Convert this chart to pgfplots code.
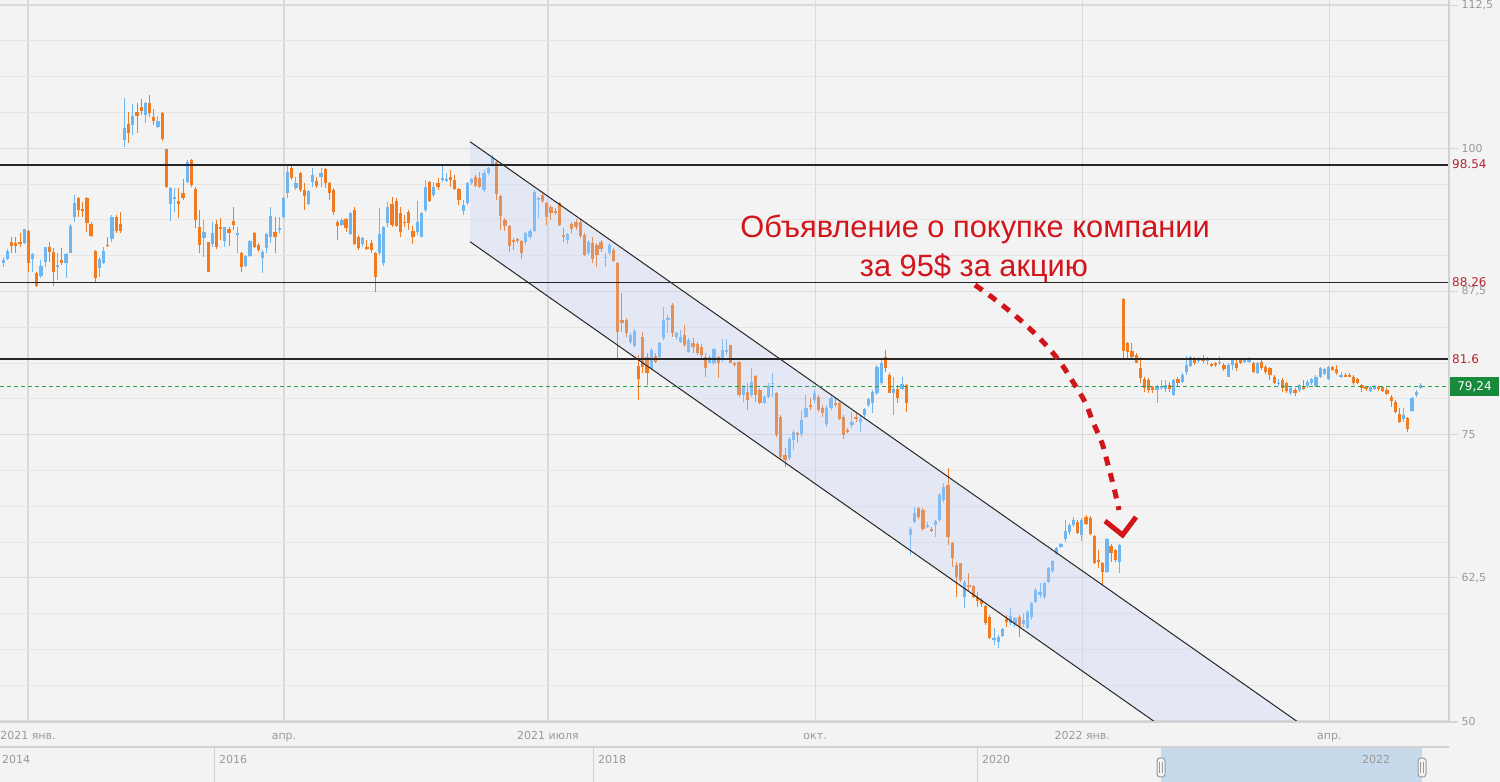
\documentclass[border=0pt]{standalone}
\usepackage{pgfplots}
\pgfplotsset{compat=1.18}
\usepackage{pgfplotstable}
\usepackage{fontspec}
\setmainfont{DejaVu Sans}
\newfontfamily\annotfont{Liberation Sans}
\definecolor{bg}{HTML}{F3F3F3}
\definecolor{majgrid}{HTML}{DADADA}
\definecolor{mingrid}{HTML}{E6E6E6}
\definecolor{axgray}{HTML}{D2D2D2}
\definecolor{lblgray}{HTML}{999999}
\definecolor{cup}{HTML}{6DB6F2}
\definecolor{cdown}{HTML}{F27A1F}
\definecolor{chan}{HTML}{BECDFA}
\definecolor{lvlred}{HTML}{B3262D}
\definecolor{greenline}{HTML}{2BA14B}
\definecolor{boxgreen}{HTML}{178A3B}
\definecolor{selblue}{HTML}{C6DAEC}
\definecolor{handlegray}{HTML}{9A9A9A}
\definecolor{annred}{HTML}{D1151B}

\pgfplotstableread{
i o h l c
0 89.96 90.54 89.67 90.25
1 90.33 91.18 90.25 91.06
2 91.79 92.28 90.83 91.47
3 91.70 92.28 90.83 91.47
4 91.79 92.57 91.41 91.61
5 91.70 92.98 91.61 92.92
6 92.78 92.87 89.23 89.96
7 90.33 90.83 89.23 90.74
8 89.08 89.23 87.92 88.01
9 88.88 90.25 88.65 89.72
10 90.10 91.41 89.66 91.35
11 91.35 91.85 90.10 90.97
12 90.97 91.26 88.01 89.23
13 89.66 90.83 88.50 89.81
14 90.25 91.26 89.81 89.96
15 90.01 90.83 88.65 90.74
16 90.89 93.39 90.83 93.24
17 94.03 95.92 93.59 95.19
18 95.63 95.78 94.03 94.61
19 94.70 95.34 94.03 94.52
20 95.63 95.78 92.72 93.45
21 93.39 93.59 92.22 92.34
22 91.06 91.12 88.35 88.67
23 89.58 90.48 88.79 90.33
24 90.01 91.41 89.90 91.06
25 91.56 92.28 91.41 91.47
26 92.05 94.17 91.85 94.03
27 94.03 94.17 92.57 92.78
28 93.39 94.47 92.57 92.78
29 100.72 104.36 100.14 101.74
30 102.12 103.20 100.43 101.30
31 102.03 103.86 101.16 102.82
32 103.14 103.92 101.30 102.82
33 103.57 104.30 102.90 103.28
34 102.90 104.07 102.23 103.92
35 103.92 104.65 102.70 103.05
36 102.70 103.40 102.03 102.41
37 101.89 102.85 101.74 102.38
38 103.11 103.17 100.63 100.78
39 99.91 99.94 96.50 96.59
40 95.13 96.59 93.65 96.50
41 95.54 96.50 94.47 95.78
42 95.43 96.50 93.88 95.13
43 96.07 97.29 95.48 95.63
44 97.08 98.98 96.94 98.83
45 98.98 99.06 96.65 96.76
46 96.42 96.59 93.01 93.74
47 93.16 94.61 90.83 91.56
48 92.20 93.74 90.54 92.72
49 91.79 91.85 89.17 89.23
50 91.64 93.59 91.41 92.57
51 93.39 93.74 91.21 91.35
52 93.10 93.88 91.99 93.01
53 91.93 93.16 91.41 93.10
54 92.95 93.16 91.50 92.57
55 93.65 94.90 92.87 93.30
56 92.46 93.10 90.89 92.52
57 90.83 90.97 89.23 89.61
58 89.72 90.68 89.66 90.59
59 90.59 91.99 90.54 91.93
60 92.63 92.72 91.26 91.35
61 91.55 91.70 90.97 91.12
62 90.39 91.12 89.08 90.97
63 91.26 92.57 90.83 92.49
64 92.28 94.90 91.70 94.09
65 92.72 94.03 90.83 92.28
66 92.92 94.03 92.57 93.07
67 93.97 95.77 93.79 95.63
68 96.06 98.45 95.63 97.96
69 98.25 98.45 97.23 97.37
70 96.50 97.52 96.35 96.99
71 97.87 97.96 96.21 96.35
72 96.35 96.94 94.61 95.83
73 95.13 96.35 95.05 96.27
74 97.08 98.25 96.65 97.66
75 97.17 97.52 96.50 96.70
76 97.46 98.25 96.65 97.87
77 98.16 98.25 96.50 97.00
78 96.94 97.08 95.48 96.12
79 96.35 96.50 94.17 94.46
80 93.59 93.74 91.99 93.21
81 93.30 93.88 93.21 93.74
82 93.79 93.88 92.72 93.01
83 92.51 94.46 92.43 94.38
84 94.61 94.90 91.55 91.64
85 92.28 92.43 91.12 91.26
86 91.64 92.28 91.41 92.13
87 91.41 91.99 91.12 91.17
88 91.76 91.99 90.83 91.12
89 90.88 90.97 87.48 88.73
90 90.83 94.75 90.68 92.51
91 89.95 93.21 89.72 93.10
92 93.44 95.34 93.15 94.90
93 95.13 95.77 93.15 93.30
94 95.42 95.63 93.10 93.21
95 94.38 94.90 92.28 92.72
96 93.59 94.17 93.15 93.45
97 94.46 94.61 92.86 93.45
98 92.80 93.21 91.64 92.28
99 92.72 95.42 92.43 93.59
100 92.28 94.46 92.22 94.38
101 94.61 97.23 94.46 96.65
102 97.08 97.17 95.31 95.39
103 95.92 97.08 95.77 96.65
104 96.99 97.37 96.35 96.59
105 97.23 98.54 97.08 97.37
106 97.17 97.81 97.08 97.29
107 97.52 98.10 96.65 97.23
108 97.23 97.66 96.35 96.41
109 96.41 96.50 95.05 95.48
110 94.55 95.48 94.17 95.05
111 95.19 97.08 95.05 96.94
112 96.94 97.37 96.79 97.29
113 97.52 97.66 96.65 96.70
114 97.37 97.96 96.50 96.59
115 96.35 98.10 96.21 97.81
116 97.81 98.39 97.66 98.25
117 98.54 99.41 98.39 99.12
118 98.83 98.97 95.48 96.01
119 95.83 95.92 92.86 94.09
120 93.74 93.88 92.80 93.21
121 93.21 93.30 90.97 91.47
122 91.99 92.13 91.12 91.87
123 92.05 92.13 91.70 91.93
124 91.93 91.99 90.30 90.83
125 91.84 92.72 91.55 92.57
126 92.28 92.92 92.05 92.80
127 92.80 96.35 92.72 96.21
128 95.48 95.77 93.88 95.63
129 95.92 96.06 95.19 95.42
130 95.19 95.34 93.30 94.03
131 94.84 95.05 93.74 94.32
132 94.46 94.75 94.17 94.38
133 95.25 95.34 93.21 93.30
134 92.43 93.01 91.84 92.22
135 91.99 92.63 91.64 92.49
136 93.39 93.59 92.57 92.92
137 93.59 93.79 92.86 93.10
138 93.59 93.74 92.13 92.34
139 92.43 92.57 90.59 90.68
140 90.88 91.99 90.68 91.84
141 91.76 92.28 89.95 90.30
142 91.55 91.70 89.66 90.68
143 91.84 91.99 90.97 91.17
144 90.42 90.83 89.66 90.53
145 90.83 91.70 90.68 91.55
146 91.12 91.26 90.10 90.19
147 90.01 90.10 81.66 83.99
148 84.99 87.33 83.99 84.77
149 85.01 85.15 83.55 83.90
150 83.11 83.84 82.91 83.70
151 82.74 84.19 82.68 84.07
152 80.99 81.95 78.02 79.83
153 83.49 83.99 80.35 80.93
154 81.80 82.10 79.33 80.35
155 80.70 82.53 80.64 82.39
156 81.86 82.10 81.22 81.37
157 81.80 83.11 81.51 82.97
158 83.41 86.17 83.26 85.01
159 85.01 85.44 83.84 85.15
160 86.32 86.46 83.55 83.84
161 83.49 83.99 83.26 83.90
162 83.11 84.13 82.97 83.55
163 83.70 84.57 82.68 82.82
164 82.24 83.41 82.10 83.26
165 82.97 83.41 82.10 82.62
166 82.91 83.11 81.95 82.16
167 82.68 82.91 81.51 81.95
168 81.80 82.10 80.06 80.78
169 81.28 81.95 81.23 81.75
170 81.28 82.53 81.08 82.45
171 81.75 81.87 79.92 81.23
172 81.52 83.32 81.37 82.39
173 82.24 83.32 81.95 82.39
174 82.80 82.83 81.23 81.28
175 81.28 81.37 80.88 81.08
176 81.37 81.43 78.32 78.46
177 78.46 79.33 77.88 79.25
178 78.75 79.48 77.15 78.02
179 78.46 80.79 78.32 79.62
180 80.12 80.21 77.88 78.46
181 78.90 79.04 77.67 77.79
182 77.73 78.46 77.67 78.32
183 78.32 79.48 78.17 79.25
184 79.42 80.35 78.32 79.54
185 78.66 78.75 74.82 74.97
186 76.57 76.71 72.79 73.08
187 73.22 73.80 72.20 72.79
188 72.93 74.82 72.79 74.59
189 74.53 75.41 73.66 75.26
190 75.11 75.26 74.24 74.97
191 75.06 77.15 74.82 76.28
192 76.57 78.46 76.42 77.30
193 77.59 78.17 77.15 77.44
194 78.02 78.90 77.73 78.61
195 78.32 78.46 77.01 77.15
196 77.30 77.59 76.57 76.86
197 75.93 77.59 75.70 77.30
198 77.30 78.46 77.15 78.17
199 77.79 78.17 77.44 77.62
200 77.73 77.88 76.28 76.34
201 76.57 76.71 74.59 74.97
202 75.41 75.55 75.11 75.26
203 75.84 77.01 75.55 76.13
204 76.57 77.01 76.13 76.34
205 76.13 76.71 75.26 76.34
206 76.71 77.30 76.57 77.21
207 77.59 78.17 77.44 78.08
208 77.79 78.90 76.86 78.75
209 78.61 81.08 78.46 80.93
210 79.48 81.52 79.33 81.28
211 81.81 82.39 80.50 80.79
212 80.21 80.35 78.61 78.66
213 78.61 80.06 76.71 78.96
214 78.96 79.33 77.73 78.17
215 78.96 80.06 78.90 79.42
216 79.33 79.42 77.01 77.73
217 66.24 66.91 64.49 66.73
218 67.40 68.71 67.26 68.19
219 68.56 68.71 67.60 67.78
220 68.42 68.56 66.62 66.73
221 66.97 67.40 66.82 67.11
222 66.73 66.97 66.53 66.62
223 67.11 67.55 66.09 67.49
224 67.55 69.87 67.40 69.73
225 69.29 70.75 69.00 70.46
226 70.60 72.06 65.36 66.09
227 65.51 65.65 63.47 64.20
228 63.62 63.91 60.85 62.60
229 63.76 63.82 62.16 62.31
230 60.85 62.31 59.83 62.16
231 61.87 62.89 61.29 61.73
232 61.78 61.87 60.71 60.85
233 60.85 61.29 59.98 60.50
234 60.56 60.71 59.98 60.21
235 60.04 60.13 58.38 58.53
236 59.11 59.25 57.13 57.22
237 57.13 58.09 56.63 57.22
238 56.92 57.51 56.34 57.36
239 57.42 58.09 57.30 58.00
240 58.87 59.25 58.24 58.67
241 58.58 59.83 58.38 59.16
242 58.47 59.11 58.24 58.96
243 59.11 59.25 57.36 58.24
244 58.47 59.40 58.18 58.82
245 58.09 59.69 58.00 59.54
246 59.11 60.42 58.82 60.27
247 60.42 61.58 60.27 61.44
248 61.00 62.02 60.71 61.29
249 60.85 62.16 60.62 62.02
250 62.16 63.47 62.02 63.33
251 63.12 64.05 62.89 64.00
252 64.58 65.22 64.49 65.07
253 65.16 65.51 65.07 65.45
254 65.86 67.55 65.65 66.62
255 66.53 67.26 66.24 67.11
256 67.11 67.78 66.91 67.55
257 67.40 67.55 66.32 66.44
258 66.24 67.69 65.74 67.55
259 67.84 67.98 67.11 67.20
260 67.69 67.89 66.24 66.32
261 66.15 66.24 63.70 63.82
262 64.05 64.93 63.33 63.91
263 63.82 63.91 61.87 63.04
264 63.04 65.95 62.95 65.86
265 65.28 65.45 63.91 64.69
266 64.93 64.99 63.91 64.05
267 63.91 65.45 62.95 65.36
268 86.81 86.90 81.52 82.33
269 82.97 83.12 81.57 82.24
270 82.33 83.03 81.52 81.81
271 81.95 82.10 81.23 81.28
272 80.79 81.81 79.48 79.92
273 79.83 80.06 78.75 79.04
274 79.77 79.92 78.66 78.90
275 79.13 79.25 78.61 78.90
276 78.90 79.33 77.73 79.25
277 79.13 79.77 78.90 79.25
278 78.96 79.77 78.75 79.33
279 79.33 79.62 78.75 78.96
280 78.46 79.83 78.37 79.77
281 79.83 80.00 79.25 79.48
282 79.62 80.35 79.48 80.21
283 80.50 81.87 80.21 81.08
284 80.99 81.87 80.88 81.75
285 81.66 81.81 81.08 81.23
286 81.46 81.75 81.23 81.57
287 81.57 81.95 81.28 81.46
288 81.46 81.75 81.08 81.57
289 81.17 81.23 80.93 80.99
290 81.23 81.37 80.93 81.08
291 81.23 81.87 81.08 81.37
292 81.08 81.23 80.59 80.70
293 80.06 81.23 80.00 81.08
294 81.08 81.57 80.64 81.52
295 81.23 81.52 80.59 80.79
296 81.57 81.66 81.17 81.28
297 81.37 81.66 81.23 81.52
298 81.37 81.81 81.23 81.52
299 81.23 81.37 80.35 80.50
300 80.41 81.37 80.29 81.23
301 81.37 81.52 80.64 80.79
302 80.93 81.08 80.29 80.50
303 80.79 80.93 79.77 80.21
304 80.06 80.21 79.42 79.54
305 79.42 79.83 79.25 79.54
306 79.77 79.92 78.75 79.04
307 79.48 79.62 78.66 78.84
308 78.61 79.25 78.46 79.04
309 78.90 79.04 78.37 78.66
310 78.90 79.42 78.75 79.33
311 79.19 79.77 78.90 79.04
312 79.25 79.77 79.04 79.62
313 79.48 79.92 79.33 79.83
314 79.25 80.21 79.13 80.06
315 80.06 80.88 79.92 80.79
316 80.29 80.79 80.21 80.70
317 79.83 80.99 79.77 80.88
318 80.88 80.99 80.59 80.64
319 80.70 81.08 80.21 80.35
320 80.00 80.50 79.92 80.21
321 80.21 80.41 80.00 80.06
322 80.21 80.35 80.00 80.06
323 80.06 80.21 79.33 79.48
324 79.83 79.92 79.42 79.54
325 79.33 79.42 78.75 79.04
326 79.13 79.25 78.84 78.96
327 78.84 79.25 78.75 79.13
328 78.96 79.33 78.90 79.13
329 79.13 79.25 78.84 78.96
330 79.13 79.25 78.75 78.84
331 78.90 79.04 78.46 78.55
332 78.32 78.46 77.44 77.97
333 77.88 78.02 76.86 77.01
334 76.80 77.30 75.99 76.13
335 76.34 77.30 76.13 76.71
336 76.42 76.57 75.26 75.46
337 77.09 78.32 77.01 78.17
338 78.46 78.90 78.32 78.75
339 79.04 79.48 78.96 79.33
}\candles

\pgfplotsset{
  wick/.style={draw=none, no markers, forget plot,
    error bars/y dir=both, error bars/y explicit, error bars/error mark=none,
    error bars/error bar style={line width=1pt, draw=#1, solid}},
  body/.style={draw=none, no markers, forget plot,
    error bars/y dir=both, error bars/y explicit, error bars/error mark=none,
    error bars/error bar style={line width=3.2pt, draw=#1, solid}},
}

\begin{document}
\begin{tikzpicture}[x=1pt,y=1pt]
\useasboundingbox (0,0) rectangle (1500,782);
\fill[bg] (0,0) rectangle (1500,782);
\begin{axis}[
  at={(0pt,60pt)}, anchor=south west, scale only axis,
  width=1448pt, height=722pt,
  xmin=-0.79, xmax=345.6, ymin=49.92, ymax=112.94,
  axis line style={draw=none},
  xtick={5.91,67.15,130.3,194.2,258.1,317.2},
  xticklabels={2021 янв.,апр.,2021 июля,окт.,2022 янв.,апр.},
  ytick={50,62.5,75,87.5,100,112.5},
  yticklabels={50,62{,}5,75,87{,}5,100,112{,}5},
  minor ytick={53.125,56.25,59.375,65.625,68.75,71.875,78.125,81.25,84.375,90.625,93.75,96.875,103.125,106.25,109.375},
  xmajorgrids, ymajorgrids, yminorgrids,
  major grid style={draw=majgrid, line width=1.2pt},
  minor grid style={draw=mingrid, line width=1pt},
  ytick pos=right, yticklabel pos=right,
  tick align=outside, major tick length=10pt, minor tick length=0pt,
  xtick style={draw=none},
  ytick style={draw=axgray, line width=1pt},
  xticklabel style={font=\fontsize{11}{13}\selectfont, text=lblgray, anchor=base, yshift=-7pt},
  yticklabel style={font=\fontsize{11}{13}\selectfont, text=lblgray, anchor=west},
  clip=true,
]
% candles: wicks then bodies
\addplot[wick=cup, restrict expr to domain={\thisrow{c}-\thisrow{o}}{0:100}]
  table[x=i, y expr={(\thisrow{h}+\thisrow{l})/2}, y error plus expr={(\thisrow{h}-\thisrow{l})/2}, y error minus expr={(\thisrow{h}-\thisrow{l})/2}] {\candles};
\addplot[wick=cdown, restrict expr to domain={\thisrow{o}-\thisrow{c}}{0.001:100}]
  table[x=i, y expr={(\thisrow{h}+\thisrow{l})/2}, y error plus expr={(\thisrow{h}-\thisrow{l})/2}, y error minus expr={(\thisrow{h}-\thisrow{l})/2}] {\candles};
\addplot[body=cup, restrict expr to domain={\thisrow{c}-\thisrow{o}}{0:100}]
  table[x=i, y expr={(\thisrow{o}+\thisrow{c})/2}, y error plus expr={max(abs(\thisrow{c}-\thisrow{o})/2,0.07)}, y error minus expr={max(abs(\thisrow{c}-\thisrow{o})/2,0.07)}] {\candles};
\addplot[body=cdown, restrict expr to domain={\thisrow{o}-\thisrow{c}}{0.001:100}]
  table[x=i, y expr={(\thisrow{o}+\thisrow{c})/2}, y error plus expr={max(abs(\thisrow{c}-\thisrow{o})/2,0.07)}, y error minus expr={max(abs(\thisrow{c}-\thisrow{o})/2,0.07)}] {\candles};
% channel
\fill[chan, opacity=0.27] (axis cs:111.65,100.57) -- (axis cs:317.2,48) -- (axis cs:283.0,48) -- (axis cs:111.65,91.84) -- cycle;
\addplot[black!85, line width=1pt, forget plot] coordinates {(111.65,100.57) (317.2,48)};
\addplot[black!85, line width=1pt, forget plot] coordinates {(111.65,91.84) (283.0,48)};
% levels
\addplot[black!85, line width=1.3pt, forget plot] coordinates {(-0.79,98.54) (345.6,98.54)};
\addplot[black!85, line width=1.3pt, forget plot] coordinates {(-0.79,88.26) (345.6,88.26)};
\addplot[black!85, line width=1.3pt, forget plot] coordinates {(-0.79,81.6) (345.6,81.6)};
\addplot[greenline, line width=1pt, dash pattern=on 4pt off 3pt, forget plot] coordinates {(-0.79,79.24) (345.6,79.24)};
\end{axis}
% frame lines
\draw[axgray, line width=1.5pt] (1449,782) -- (1449,60);
\draw[axgray, line width=1.5pt] (0,60) -- (1457,60);
% level labels
\node[anchor=west, text=lvlred, font=\fontsize{12}{14}\selectfont, inner sep=0pt] at (1452,617.5) {98.54};
\node[anchor=west, text=lvlred, font=\fontsize{12}{14}\selectfont, inner sep=0pt] at (1452,499.5) {88.26};
\node[anchor=west, text=lvlred, font=\fontsize{12}{14}\selectfont, inner sep=0pt] at (1452,423) {81.6};
\node[fill=boxgreen, text=white, minimum width=49pt, minimum height=19pt, inner sep=0pt, font=\fontsize{12}{14}\selectfont] at (1474.5,395.5) {79,24};
% navigator
\fill[selblue] (1161,0) rectangle (1422,35);
\draw[axgray, line width=1.2pt] (0,35) -- (1449,35);
\foreach \xx in {214,593,977,1357} {\draw[axgray, line width=1pt] (\xx,0) -- (\xx,35);}
\foreach \xx/\yy in {2/2014,219/2016,598/2018,982/2020,1362/2022} {\node[anchor=base west, text=lblgray, font=\fontsize{11}{13}\selectfont, inner sep=0pt] at (\xx,18) {\yy};}
\foreach \xx in {1161,1422} {
  \draw[fill=bg, draw=handlegray, line width=1pt, rounded corners=3pt] (\xx-4,5) rectangle (\xx+4,24);
  \draw[handlegray, line width=0.8pt] (\xx-1.2,9) -- (\xx-1.2,20);
  \draw[handlegray, line width=0.8pt] (\xx+1.2,9) -- (\xx+1.2,20);
}
% annotation
\node[anchor=base, text=annred, font=\annotfont\fontsize{30.8}{36}\selectfont, inner sep=0pt] at (975,544) {Объявление о покупке компании};
\node[anchor=base, text=annred, font=\annotfont\fontsize{30.8}{36}\selectfont, inner sep=0pt] at (974,505.3) {за 95\$ за акцию};
\draw[annred, line width=5pt, dash pattern=on 9pt off 8pt] plot[smooth, tension=0.6] coordinates {(975,497) (993,484) (1012,469) (1028,455) (1045,438) (1060,420) (1073,400) (1085,380) (1093,360) (1102,339) (1108,317) (1114,294) (1119,272)};
\draw[annred, line width=5pt, line join=miter] (1105,261) -- (1122.5,247) -- (1136,265);
\end{tikzpicture}
\end{document}
